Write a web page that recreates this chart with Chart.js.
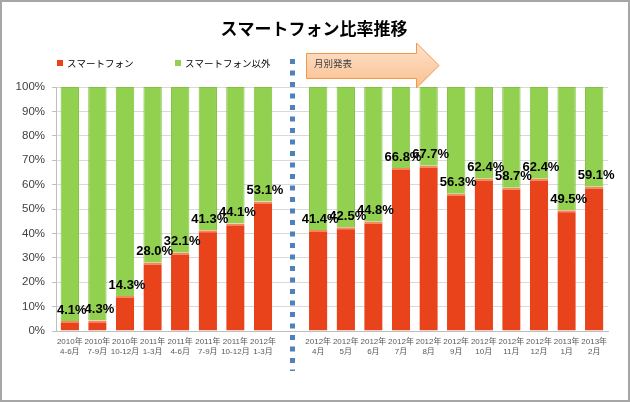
<!DOCTYPE html>
<html lang="ja">
<head>
<meta charset="utf-8">
<title>スマートフォン比率推移</title>
<script src="https://cdn.jsdelivr.net/npm/chart.js@4/dist/chart.umd.min.js"></script>
<style>
  html, body { margin: 0; padding: 0; background: #fff; }
  #wrap { width: 630px; height: 402px; position: relative; }
</style>
</head>
<body>
<div id="wrap"><canvas id="chart" width="630" height="402"></canvas></div>
<script>
// ── data ─────────────────────────────────────────────
// index 8 is an empty slot where the quarterly → monthly separator sits
const categories = [
  ['2010年', '4-6月'], ['2010年', '7-9月'], ['2010年', '10-12月'], ['2011年', '1-3月'],
  ['2011年', '4-6月'], ['2011年', '7-9月'], ['2011年', '10-12月'], ['2012年', '1-3月'],
  '',
  ['2012年', '4月'], ['2012年', '5月'], ['2012年', '6月'], ['2012年', '7月'],
  ['2012年', '8月'], ['2012年', '9月'], ['2012年', '10月'], ['2012年', '11月'],
  ['2012年', '12月'], ['2013年', '1月'], ['2013年', '2月']
];
const smartphone = [4.1, 4.3, 14.3, 28.0, 32.1, 41.3, 44.1, 53.1, null,
  41.4, 42.5, 44.8, 66.8, 67.7, 56.3, 62.4, 58.7, 62.4, 49.5, 59.1];
const others = [95.9, 95.7, 85.7, 72.0, 67.9, 58.7, 55.9, 46.9, null,
  58.6, 57.5, 55.2, 33.2, 32.3, 43.7, 37.6, 41.3, 37.6, 50.5, 40.9];
const seriesNames = ['スマートフォン', 'スマートフォン以外'];
const yTicks = [0, 10, 20, 30, 40, 50, 60, 70, 80, 90, 100];

const RED = '#E8431B';
const GREEN = '#92D050';
const JP = "'Noto Sans CJK JP', 'Noto Sans', sans-serif";
const LATIN_JP = "'Liberation Sans', 'Noto Sans CJK JP', sans-serif";

// ── decorations: title, legend, arrow, separator, labels, frame ──
const decorations = {
  id: 'decorations',
  afterDatasetsDraw(chart) {
    const ctx = chart.ctx;
    const xs = chart.scales.x;
    ctx.save();

    // value labels above each red bar
    const meta = chart.getDatasetMeta(0);
    ctx.font = "bold 13px 'Liberation Sans', Arial, sans-serif";
    ctx.fillStyle = '#000';
    ctx.textAlign = 'center';
    ctx.textBaseline = 'middle';
    meta.data.forEach(function (bar, i) {
      if (smartphone[i] == null) return;
      ctx.fillText(smartphone[i].toFixed(1) + '%', bar.x + 2, bar.y - 11);
    });

    // dotted separator between quarterly and monthly data
    const sepX = Math.round(xs.getPixelForValue(8)) + 1.5;
    ctx.strokeStyle = '#4F81BD';
    ctx.lineWidth = 5;
    ctx.setLineDash([5, 6.5]);
    ctx.beginPath();
    ctx.moveTo(sepX, 59);
    ctx.lineTo(sepX, 371);
    ctx.stroke();
    ctx.setLineDash([]);
    ctx.restore();
  },
  afterDraw(chart) {
    const ctx = chart.ctx;
    ctx.save();

    // title
    ctx.font = 'bold 17px ' + JP;
    ctx.fillStyle = '#000';
    ctx.textAlign = 'center';
    ctx.textBaseline = 'middle';
    ctx.fillText('スマートフォン比率推移', 314, 29);

    // legend
    ctx.font = '9.5px ' + JP;
    ctx.textAlign = 'left';
    ctx.fillStyle = RED;
    ctx.fillRect(57, 60, 6, 6);
    ctx.fillStyle = GREEN;
    ctx.fillRect(175, 60, 6, 6);
    ctx.fillStyle = '#000';
    ctx.fillText(seriesNames[0], 67, 63.5);
    ctx.fillText(seriesNames[1], 185, 63.5);

    // "月別発表" arrow
    const grad = ctx.createLinearGradient(0, 43, 0, 87);
    grad.addColorStop(0, '#FDE3CF');
    grad.addColorStop(1, '#FAC08F');
    ctx.beginPath();
    ctx.moveTo(306.5, 53.5);
    ctx.lineTo(416.5, 53.5);
    ctx.lineTo(416.5, 43);
    ctx.lineTo(439, 65.5);
    ctx.lineTo(416.5, 88);
    ctx.lineTo(416.5, 78.5);
    ctx.lineTo(306.5, 78.5);
    ctx.closePath();
    ctx.fillStyle = grad;
    ctx.fill();
    ctx.strokeStyle = '#F79646';
    ctx.lineWidth = 1;
    ctx.stroke();
    ctx.fillStyle = '#404040';
    ctx.font = '9.5px ' + JP;
    ctx.fillText('月別発表', 314, 63.5);

    // outer frame
    ctx.strokeStyle = '#A6A6A6';
    ctx.lineWidth = 2;
    ctx.strokeRect(1, 1, 628, 400);
    ctx.restore();
  }
};

new Chart(document.getElementById('chart'), {
  type: 'bar',
  data: {
    labels: categories,
    datasets: [
      {
        label: seriesNames[0],
        data: smartphone,
        backgroundColor: RED,
        borderColor: '#F8865C',
        borderWidth: { top: 2, left: 0, right: 0, bottom: 0 },
        borderSkipped: false
      },
      {
        label: seriesNames[1],
        data: others,
        backgroundColor: GREEN,
        borderColor: '#84C142',
        borderWidth: 1,
        borderSkipped: 'bottom'
      }
    ]
  },
  options: {
    responsive: false,
    animation: false,
    events: [],
    layout: { padding: { top: 87, right: 22, bottom: 0, left: 0 } },
    datasets: {
      bar: { barPercentage: 0.665, categoryPercentage: 1, grouped: false }
    },
    plugins: {
      legend: { display: false },
      title: { display: false },
      tooltip: { enabled: false }
    },
    scales: {
      x: {
        stacked: true,
        afterFit(scale) { scale.height = 71; },
        grid: { display: false, drawTicks: false },
        border: { display: true, color: '#BFBFBF' },
        ticks: {
          autoSkip: false,
          maxRotation: 0,
          minRotation: 0,
          padding: 5,
          color: '#595959',
          font: { family: LATIN_JP, size: 8, lineHeight: 1.35 }
        }
      },
      y: {
        stacked: true,
        min: 0,
        max: 100,
        afterFit(scale) { scale.width = 56; },
        afterBuildTicks(scale) {
          scale.ticks = yTicks.map(function (v) { return { value: v }; });
        },
        grid: { color: '#D9D9D9', tickLength: 4, tickColor: '#BFBFBF' },
        border: { display: true, color: '#BFBFBF' },
        ticks: {
          padding: 7,
          color: '#404040',
          font: { family: "'Liberation Sans', Arial, sans-serif", size: 11.5 },
          callback: function (v) { return v + '%'; }
        }
      }
    }
  },
  plugins: [decorations]
});
</script>
</body>
</html>
